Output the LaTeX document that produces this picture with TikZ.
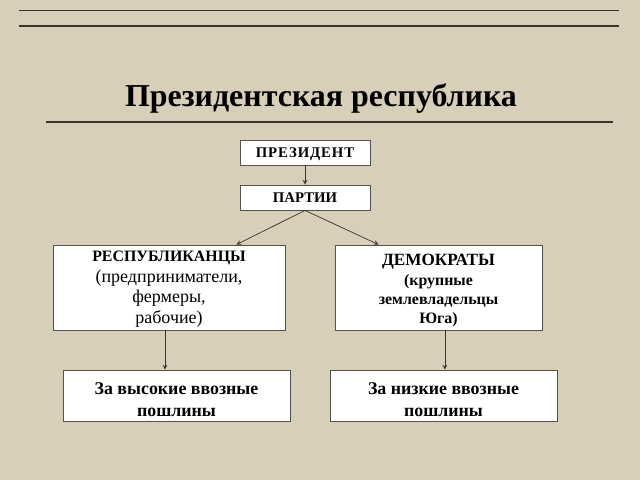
\documentclass[tikz,border=0pt]{standalone}
\usepackage{fontspec}
\setmainfont{Liberation Serif}
\definecolor{paper}{RGB}{216,207,187}
\definecolor{ink}{RGB}{58,52,42}
\definecolor{frame}{RGB}{85,82,78}

\begin{document}
\begin{tikzpicture}[
    x=0.025cm, y=-0.025cm,
    box/.style={
      draw=frame,
      fill=white,
      line width=0.6pt,
      inner sep=2pt,
      align=center
    },
    arr/.style={->, >=stealth, ink, line width=0.5pt},
    rule/.style={ink, line width=1.2pt}
  ]
  \fill[paper] (0, 0) rectangle (640, 480);
  \useasboundingbox (0, 0) rectangle (640, 480);

  % rules and title
  \draw[rule] (19, 10.5) -- (619, 10.5);
  \draw[rule] (19, 26) -- (619, 26);
  \node[font=\fontsize{22.7}{27}\selectfont\bfseries] (title) at (321, 99)
    {Президентская республика};
  \draw[rule] (46, 122) -- (613, 122);

  \node[
    box,
    minimum width=3.25cm,
    minimum height=0.625cm,
    text depth=0pt,
    font=\fontsize{10.5}{12}\selectfont\bfseries\addfontfeature{LetterSpace=6}
  ] (pres) at (305, 152.5) {ПРЕЗИДЕНТ};

  \node[
    box,
    minimum width=3.25cm,
    minimum height=0.625cm,
    font=\fontsize{10.5}{12}\selectfont\bfseries
  ] (part) at (305, 197.5) {ПАРТИИ};

  \node[
    box,
    inner ysep=1pt,
    minimum width=5.8cm,
    minimum height=2.125cm,
    font=\fontsize{12.8}{14.6}\selectfont
  ] (rep) at (169, 287.5)
    {\rule{0pt}{10pt}{\fontsize{11.3}{14.6}\selectfont\bfseries РЕСПУБЛИКАНЦЫ}\\(предприниматели,\\фермеры,\\рабочие)};

  \node[
    box,
    minimum width=5.175cm,
    minimum height=2.125cm,
    font=\fontsize{11.3}{13.6}\selectfont\bfseries
  ] (dem) at (438.5, 287.5)
    {\rule{0pt}{12.5pt}{\fontsize{12.2}{13.6}\selectfont ДЕМОКРАТЫ}\\(крупные\\землевладельцы\\Юга)};

  \node[
    box,
    minimum width=5.675cm,
    minimum height=1.275cm,
    font=\fontsize{12.7}{15.6}\selectfont\bfseries
  ] (high) at (176.5, 395.5) {\rule{0pt}{14pt}За высокие ввозные\\пошлины};

  \node[
    box,
    minimum width=5.675cm,
    minimum height=1.275cm,
    font=\fontsize{12.7}{15.6}\selectfont\bfseries
  ] (low) at (443.5, 395.5) {\rule{0pt}{14pt}За низкие ввозные\\пошлины};

  % connectors
  \draw[arr] (pres.south) -- (part.north);
  \draw[arr] (part.south) -- ([xshift=-1.225cm]rep.north east);
  \draw[arr] (part.south) -- ([xshift=1.1cm]dem.north west);
  \draw[arr] ([xshift=-0.1cm]rep.south) -- ([xshift=-0.1cm]rep.south |- high.north);
  \draw[arr] ([xshift=0.16cm]dem.south) -- ([xshift=0.16cm]dem.south |- low.north);

\end{tikzpicture}
\end{document}
